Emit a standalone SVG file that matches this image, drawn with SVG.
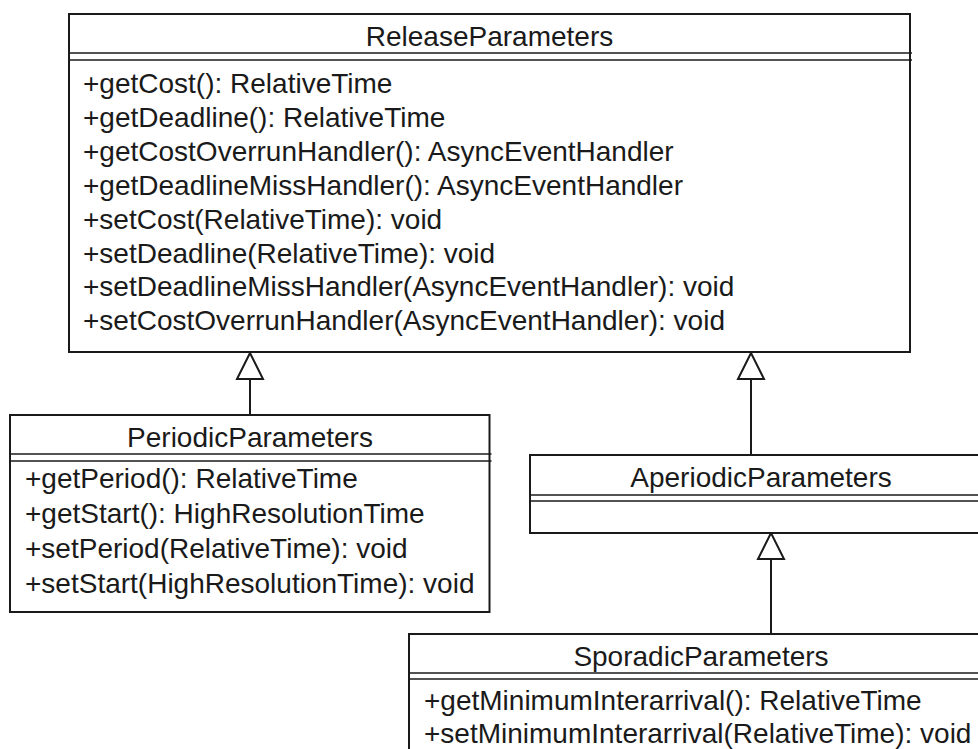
<svg xmlns="http://www.w3.org/2000/svg" width="978" height="749" viewBox="0 0 978 749">
  <style>
    .box { fill: #ffffff; stroke: #1a1a1a; stroke-width: 2; }
    .div { stroke: #1a1a1a; stroke-width: 1.6; fill: none; }
    .title { font-family: "Liberation Sans", Arial, sans-serif; font-size: 28px; fill: #1a1a1a; text-anchor: middle; }
    .op { font-family: "Liberation Sans", Arial, sans-serif; font-size: 28px; fill: #1a1a1a; }
    .edge { stroke: #1a1a1a; stroke-width: 2; fill: none; }
    .tri { fill: #ffffff; stroke: #1a1a1a; stroke-width: 2; stroke-linejoin: miter; }
  </style>
  <rect x="0" y="0" width="978" height="749" fill="#ffffff"/>

  <g id="connectors">
    <line class="edge" x1="250" y1="415" x2="250" y2="379"/>
    <polygon class="tri" points="250,353 237,379 263,379"/>
    <line class="edge" x1="751" y1="455" x2="751" y2="379"/>
    <polygon class="tri" points="751,353 738,379 764,379"/>
    <line class="edge" x1="771" y1="634" x2="771" y2="559"/>
    <polygon class="tri" points="771,533 758,559 784,559"/>
  </g>

  <g id="ReleaseParameters">
    <rect class="box" x="69" y="14" width="841" height="338"/>
    <line class="div" x1="69" y1="53" x2="912" y2="53"/>
    <line class="div" x1="69" y1="60" x2="912" y2="60"/>
    <text class="title" x="489.5" y="46">ReleaseParameters</text>
    <text class="op" x="83" y="93">+getCost(): RelativeTime</text>
    <text class="op" x="83" y="127">+getDeadline(): RelativeTime</text>
    <text class="op" x="83" y="161">+getCostOverrunHandler(): AsyncEventHandler</text>
    <text class="op" x="83" y="195">+getDeadlineMissHandler(): AsyncEventHandler</text>
    <text class="op" x="83" y="229">+setCost(RelativeTime): void</text>
    <text class="op" x="83" y="263">+setDeadline(RelativeTime): void</text>
    <text class="op" x="83" y="296">+setDeadlineMissHandler(AsyncEventHandler): void</text>
    <text class="op" x="83" y="330">+setCostOverrunHandler(AsyncEventHandler): void</text>
  </g>

  <g id="PeriodicParameters">
    <rect class="box" x="10" y="415" width="479.5" height="197"/>
    <line class="div" x1="10" y1="454" x2="491.5" y2="454"/>
    <line class="div" x1="10" y1="461" x2="491.5" y2="461"/>
    <text class="title" x="250" y="447">PeriodicParameters</text>
    <text class="op" x="25" y="488">+getPeriod(): RelativeTime</text>
    <text class="op" x="25" y="523">+getStart(): HighResolutionTime</text>
    <text class="op" x="25" y="558">+setPeriod(RelativeTime): void</text>
    <text class="op" x="25" y="593">+setStart(HighResolutionTime): void</text>
  </g>

  <g id="AperiodicParameters">
    <rect class="box" x="530" y="455" width="462" height="78"/>
    <line class="div" x1="530" y1="495" x2="992" y2="495"/>
    <line class="div" x1="530" y1="501" x2="992" y2="501"/>
    <text class="title" x="761" y="487">AperiodicParameters</text>
  </g>

  <g id="SporadicParameters">
    <rect class="box" x="409" y="634" width="582" height="130"/>
    <line class="div" x1="409" y1="673" x2="991" y2="673"/>
    <line class="div" x1="409" y1="679" x2="991" y2="679"/>
    <text class="title" x="701" y="666">SporadicParameters</text>
    <text class="op" x="424" y="710">+getMinimumInterarrival(): RelativeTime</text>
    <text class="op" x="424" y="743">+setMinimumInterarrival(RelativeTime): void</text>
  </g>
</svg>
